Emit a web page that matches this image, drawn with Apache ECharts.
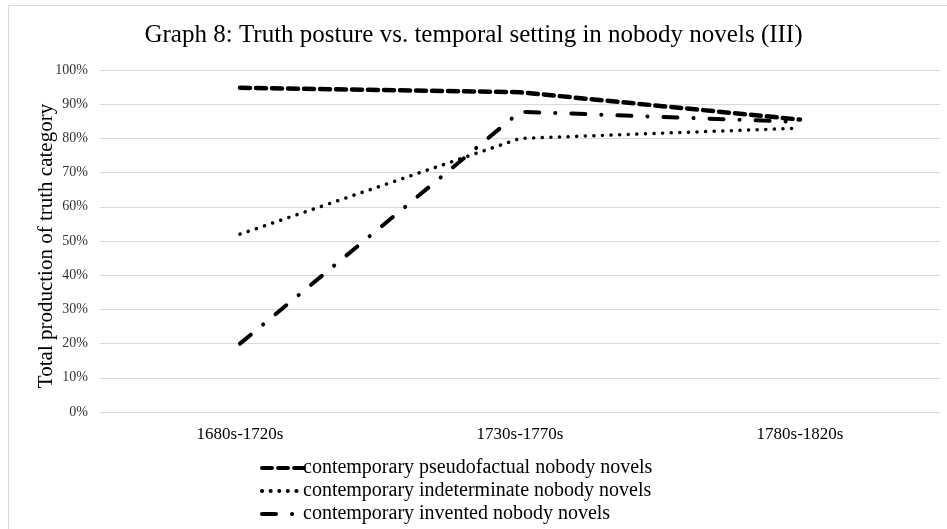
<!DOCTYPE html>
<html>
<head>
<meta charset="utf-8">
<script src="https://cdn.jsdelivr.net/npm/echarts@6/dist/echarts.min.js"></script>
<style>
  html, body { margin: 0; padding: 0; background: #fff; }
  #main { width: 947px; height: 529px; }
</style>
</head>
<body>
<div id="main"></div>
<script>
  // data (share of production, %)
  const categories = ['1680s-1720s', '1730s-1770s', '1780s-1820s'];
  const pseudofactual = [94.8, 93.5, 85.5];
  const indeterminate = [52, 80, 83];
  const invented = [20, 87.8, 84.8];
  const seriesNames = [
    'contemporary pseudofactual nobody novels',
    'contemporary indeterminate nobody novels',
    'contemporary invented nobody novels'
  ];

  const serif = 'Liberation Serif, Times New Roman, serif';
  const chart = echarts.init(document.getElementById('main'));
  const option = {
    animation: false,
    backgroundColor: '#fff',
    textStyle: { fontFamily: serif },
    title: {
      text: 'Graph 8: Truth posture vs. temporal setting in nobody novels (III)',
      left: 'center',
      top: 18,
      textStyle: { fontFamily: serif, fontWeight: 'normal', fontSize: 25, color: '#000' }
    },
    graphic: [{
      type: 'rect',
      shape: { x: 8.5, y: 5.5, width: 960, height: 540 },
      style: { fill: 'none', stroke: '#d9d9d9', lineWidth: 1 },
      silent: true
    }],
    grid: { left: 100, right: 7, top: 70, bottom: 117 },
    legend: {
      orient: 'vertical',
      left: 255,
      top: 453,
      itemWidth: 42,
      itemHeight: 12,
      itemGap: 3,
      itemStyle: { opacity: 0 },
      lineStyle: { width: 4 },
      textStyle: { fontFamily: serif, fontSize: 20, color: '#000', padding: [0, 0, 0, -6] },
      data: seriesNames
    },
    xAxis: {
      type: 'category',
      data: categories,
      axisLine: { lineStyle: { color: '#d9d9d9', width: 1 } },
      axisTick: { show: false },
      axisLabel: { fontFamily: serif, fontSize: 17, color: '#000', margin: 14 }
    },
    yAxis: {
      type: 'value',
      min: 0,
      max: 100,
      interval: 10,
      name: 'Total production of truth category',
      nameLocation: 'middle',
      nameGap: 43,
      nameMoveOverlap: false,
      nameTextStyle: { fontFamily: serif, fontSize: 21, color: '#000', padding: [0, 10, 0, 0] },
      axisLine: { show: false },
      axisTick: { show: false },
      axisLabel: { fontFamily: serif, fontSize: 14, color: '#333', margin: 12, formatter: '{value}%' },
      splitLine: { lineStyle: { color: '#d9d9d9', width: 1 } }
    },
    series: [
      {
        name: seriesNames[0],
        type: 'line',
        data: pseudofactual,
        symbol: 'none',
        itemStyle: { color: '#000' },
        lineStyle: { color: '#000', width: 4.5, type: [10, 6], cap: 'round' }
      },
      {
        name: seriesNames[1],
        type: 'line',
        data: indeterminate,
        symbol: 'none',
        itemStyle: { color: '#000' },
        lineStyle: { color: '#000', width: 3.5, type: [0.1, 8.5], cap: 'round' }
      },
      {
        name: seriesNames[2],
        type: 'line',
        data: invented,
        symbol: 'none',
        itemStyle: { color: '#000' },
        lineStyle: { color: '#000', width: 4, type: [14, 16, 0.1, 16], cap: 'round' }
      }
    ]
  };
  chart.setOption(option);
</script>
</body>
</html>
